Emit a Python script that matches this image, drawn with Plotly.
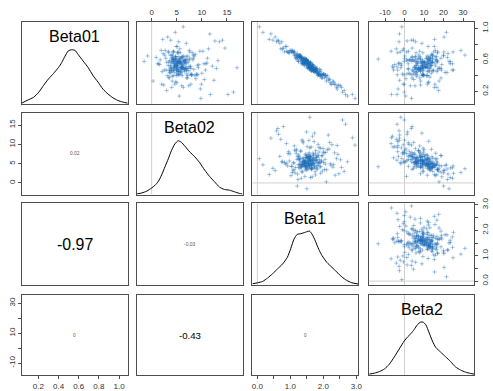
import plotly.graph_objects as go

# ---------------------------------------------------------------- data
names = ["Beta01", "Beta02", "Beta1", "Beta2"]

beta1 = [
    1.62, 0.95, 2.10, 1.48, 1.83, 0.71, 1.35, 2.44, 1.57, 1.12,
    1.90, 1.27, 0.58, 1.74, 2.02, 1.41, 1.66, 0.88, 2.31, 1.53,
    1.19, 1.97, 1.44, 2.67, 1.05, 1.71, 0.36, 1.59, 1.86, 1.30,
    2.15, 1.50, 0.82, 1.77, 1.23, 2.52, 1.64, 1.38, 0.99, 1.92,
    1.46, 2.26, 1.08, 1.69, 0.62, 1.55, 2.07, 1.33, 1.81, 2.88,
    1.16, 1.60, 0.47, 1.99, 1.42, 1.73, 2.36, 1.26, 0.92, 1.51,
    1.88, 1.36, 2.19, 0.76, 1.68, 1.47, 2.58, 1.14, 1.79, 1.31,
    0.17, 1.56, 2.04, 1.40, 1.95, 1.21, 1.63, 0.85, 2.40, 1.49,
    1.75, 1.09, 2.12, 1.58, 0.68, 1.84, 1.29, 2.73, 1.45, 1.02,
    1.67, 2.23, 1.37, 0.54, 1.91, 1.54, 1.18, 2.47, 1.72, 1.34,
    0.97, 2.00, 1.61, 1.25, 2.29, 0.79, 1.52, 1.85, 1.43, 2.96,
    1.11, 1.78, 0.41, 1.65, 2.09, 1.32, 1.94, 1.06, 1.70, 2.55,
    1.39, 0.89, 1.82, 1.57, 2.17, 1.24, 0.64, 1.76, 1.46, 2.34,
    1.03, 1.87, 1.28, 2.63, 1.59, 0.74, 1.97, 1.44, 1.13, 2.06,
    0.06, 1.66, 1.35, 2.21, 1.50, 0.93, 1.80, 2.42, 1.22, 1.62,
    1.52, 1.38, 1.71, 1.60, 1.45, 1.83, 1.29, 1.66, 1.57, 1.49,
    1.74, 1.41, 1.63, 1.20, 1.55, 1.92, 1.47, 1.36, 1.69, 1.58,
    1.33, 1.78, 1.50, 1.64, 1.11, 1.59, 1.87, 1.43, 1.54, 1.68,
    1.61, 1.26, 1.48, 1.80, 1.56, 1.39, 1.73, 1.62, 2.01, 1.44,
    1.53, 1.67, 1.35, 1.58, 1.76, 1.46, 1.30, 1.65, 1.51, 1.89,
    1.42, 1.60, 1.95, 1.49, 1.70, 1.17, 1.57, 1.81, 1.37, 1.64,
    1.55, 1.72, 1.40, 1.62, 1.28, 1.50, 1.85, 1.45, 1.68, 1.59,
    1.34, 1.77, 1.56, 1.47, 1.63, 2.05, 1.43, 1.58, 1.22, 1.69,
    1.61, 1.38, 1.52, 1.79, 1.48, 1.66, 1.31, 1.57, 1.74, 1.44,
    1.90, 1.54, 1.36, 1.63, 1.50, 1.25, 1.71, 1.46, 1.60, 1.53,
]

beta01 = [
    0.53, 0.69, 0.38, 0.60, 0.44, 0.74, 0.62, 0.27, 0.51, 0.71,
    0.39, 0.64, 0.83, 0.47, 0.42, 0.56, 0.54, 0.71, 0.32, 0.49,
    0.67, 0.40, 0.62, 0.16, 0.71, 0.49, 0.86, 0.53, 0.42, 0.65,
    0.34, 0.59, 0.70, 0.48, 0.63, 0.27, 0.50, 0.55, 0.72, 0.47,
    0.57, 0.29, 0.70, 0.47, 0.85, 0.53, 0.41, 0.55, 0.46, 0.16,
    0.62, 0.57, 0.85, 0.42, 0.53, 0.49, 0.29, 0.65, 0.70, 0.54,
    0.48, 0.57, 0.35, 0.74, 0.52, 0.61, 0.19, 0.66, 0.49, 0.60,
    0.95, 0.56, 0.37, 0.62, 0.37, 0.65, 0.50, 0.77, 0.25, 0.59,
    0.47, 0.69, 0.40, 0.50, 0.81, 0.43, 0.66, 0.14, 0.57, 0.72,
    0.52, 0.29, 0.59, 0.89, 0.41, 0.55, 0.62, 0.28, 0.47, 0.64,
    0.69, 0.41, 0.55, 0.58, 0.33, 0.75, 0.58, 0.42, 0.58, 0.11,
    0.70, 0.45, 0.93, 0.50, 0.33, 0.62, 0.42, 0.72, 0.46, 0.25,
    0.55, 0.77, 0.44, 0.55, 0.36, 0.58, 0.84, 0.45, 0.60, 0.29,
    0.70, 0.41, 0.64, 0.21, 0.50, 0.83, 0.37, 0.60, 0.65, 0.40,
    1.02, 0.49, 0.62, 0.31, 0.58, 0.70, 0.47, 0.23, 0.68, 0.49,
    0.56, 0.56, 0.50, 0.56, 0.56, 0.40, 0.64, 0.50, 0.51, 0.60,
    0.44, 0.60, 0.51, 0.63, 0.57, 0.40, 0.60, 0.56, 0.50, 0.48,
    0.63, 0.46, 0.60, 0.47, 0.69, 0.52, 0.41, 0.58, 0.52, 0.54,
    0.50, 0.66, 0.51, 0.47, 0.53, 0.61, 0.47, 0.47, 0.42, 0.62,
    0.55, 0.47, 0.62, 0.51, 0.51, 0.55, 0.64, 0.46, 0.55, 0.45,
    0.54, 0.57, 0.41, 0.57, 0.45, 0.66, 0.53, 0.49, 0.57, 0.50,
    0.58, 0.46, 0.59, 0.48, 0.64, 0.60, 0.41, 0.57, 0.53, 0.51,
    0.60, 0.50, 0.51, 0.60, 0.46, 0.40, 0.56, 0.55, 0.60, 0.53,
    0.51, 0.61, 0.58, 0.43, 0.57, 0.48, 0.66, 0.49, 0.48, 0.60,
    0.45, 0.50, 0.59, 0.56, 0.53, 0.64, 0.46, 0.58, 0.51, 0.58,
]

beta02 = [
    5.2, 8.1, 3.4, 6.7, 4.5, 11.3, 2.8, 7.4, 5.9, 9.6,
    4.1, 6.2, 13.5, 3.9, 7.8, 5.5, 1.6, 10.2, 4.8, 6.9,
    8.7, 3.1, 5.7, 15.2, 4.3, 7.1, 2.2, 9.1, 5.0, 6.4,
    12.4, 3.6, 5.3, 8.4, 0.9, 6.0, 4.6, 10.8, 7.5, 2.5,
    5.8, 9.9, 3.3, 6.5, 14.1, 4.9, 7.9, 1.2, 5.4, 11.7,
    4.0, 6.8, 3.8, 8.9, 5.1, 12.9, 2.0, 7.2, 4.4, 9.4,
    6.1, 3.0, 10.5, 5.6, 7.7, 4.2, 16.3, 2.6, 6.6, 8.2,
    4.7, 11.0, 3.5, 5.9, 7.0, -0.8, 9.3, 4.9, 6.3, 13.2,
    2.9, 5.2, 8.6, 4.3, 6.9, 10.0, 3.7, 5.5, 7.3, 1.9,
    12.1, 4.6, 6.4, 3.2, 9.0, 5.0, 7.6, 2.4, 10.7, 4.8,
    5.7, 8.0, 1.4, 6.2, 4.1, 14.6, 3.9, 7.0, 5.3, 9.8,
    3.4, 6.6, 11.6, 4.5, 0.3, 8.3, 5.8, 2.7, 7.4, 4.0,
    10.4, 5.1, 3.6, 6.9, 8.8, 4.7, 12.6, 2.1, 5.6, 7.8,
    4.3, 9.2, 6.0, 3.0, 17.0, 5.4, 7.1, 1.7, 8.5, 4.9,
    6.3, 3.8, 11.1, 5.0, -1.5, 7.6, 4.4, 9.7, 2.3, 6.7,
    5.1, 4.4, 6.3, 5.6, 3.9, 7.2, 4.8, 5.3, 6.8, 4.2,
    5.9, 4.6, 3.7, 6.1, 5.0, 4.3, 7.5, 5.5, 4.9, 6.4,
    4.1, 5.7, 6.6, 3.5, 5.2, 4.7, 8.0, 5.4, 4.5, 6.0,
    5.8, 4.0, 5.1, 6.9, 3.8, 5.6, 4.4, 7.0, 5.3, 4.8,
    6.2, 5.0, 4.3, 5.9, 7.7, 4.6, 5.4, 3.6, 6.5, 5.2,
    4.9, 6.7, 5.5, 4.2, 5.8, 8.3, 4.5, 6.0, 5.1, 3.9,
    5.6, 4.1, 6.4, 5.0, 4.7, 7.1, 5.3, 3.4, 6.2, 4.8,
    4.4, 5.9, 7.4, 5.2, 4.0, 6.1, 5.7, 4.6, 6.8, 5.0,
    6.0, 4.9, 5.3, 3.7, 6.6, 5.5, 4.2, 7.8, 5.1, 4.5,
    5.4, 6.3, 4.8, 5.8, 3.3, 6.9, 5.0, 4.3, 6.1, 5.6,
]

beta2 = [
    13.9, -3.5, 13.0, 4.2, 20.8, -4.2, 18.7, 5.4, -3.9, 7.8,
    6.2, 15.8, -2.8, 24.5, -1.1, 9.6, 19.1, -6.9, 12.4, 1.9,
    13.8, 9.4, 12.4, -3.8, 2.0, 18.7, 15.4, -1.6, 9.2, 14.5,
    -2.5, 16.8, -2.2, 7.2, 22.0, 3.0, 10.6, 12.4, -0.8, 25.1,
    10.2, -0.6, 20.2, -5.6, 3.5, 9.3, 3.8, 24.6, 14.7, -6.7,
    14.3, 14.1, 4.6, 5.6, 6.1, 8.9, 11.7, 11.6, 24.9, -5.0,
    1.9, 14.5, 4.7, -0.5, 16.0, -13.5, -0.1, 20.0, 6.3, 2.4,
    21.5, -2.8, 3.9, 11.1, 7.8, 20.0, -5.9, 15.3, 16.6, 1.6,
    9.6, 16.9, 10.0, 5.0, 8.9, 2.3, 31.0, 0.6, 10.5, 15.8,
    -6.1, 15.6, 4.5, 20.3, 9.5, -1.8, 8.1, 8.2, -3.5, 16.4,
    9.4, -0.3, 23.4, 11.8, 8.2, 3.9, 23.5, 2.8, -0.2, 3.6,
    17.0, 6.3, -2.6, 17.8, 17.7, 7.3, 1.2, 28.9, 4.4, 15.3,
    1.9, 12.1, 21.8, -3.1, 0.7, 16.5, 1.3, 16.6, 16.5, -0.1,
    15.0, -3.7, 8.0, 17.5, -1.9, 5.7, 18.7, 1.0, 0.1, 11.3,
    -1.4, 17.6, 0.0, 12.2, 22.8, 1.1, 18.9, -3.3, 22.3, 8.2,
    11.1, 6.9, 11.6, 8.5, 9.5, 11.6, 5.4, 9.8, 10.1, 8.1,
    6.1, 12.6, 11.7, 3.9, 14.2, 12.0, 3.2, 12.6, 9.3, 6.5,
    13.2, 9.4, 5.3, 16.9, 5.9, 11.5, 9.7, 3.7, 10.8, 11.0,
    7.2, 14.3, 11.1, 3.9, 13.6, 6.5, 14.9, 7.8, 4.8, 11.4,
    11.8, 7.2, 13.0, 9.1, 5.0, 15.6, 5.7, 12.8, 12.4, 4.9,
    10.3, 10.2, 6.6, 14.1, 8.2, 7.3, 8.8, 13.0, 6.1, 12.5,
    5.5, 12.2, 12.5, 8.2, 12.5, 2.7, 9.8, 17.0, 5.8, 13.4,
    11.9, 7.1, 9.4, 12.9, 8.3, 8.9, 13.4, 6.6, 9.1, 9.2,
    8.0, 14.3, 6.8, 13.7, 8.3, 5.6, 14.1, 7.9, 8.1, 15.8,
    11.7, 5.6, 13.4, 9.2, 13.2, 3.9, 14.2, 9.0, 10.9, 9.5,
]

# kernel density curves, heights relative to each curve's peak
dens_beta01_x = [0.036, 0.088, 0.154, 0.203, 0.252, 0.301, 0.350, 0.399, 0.431, 0.464, 0.497, 0.529,
                 0.562, 0.595, 0.644, 0.693, 0.742, 0.791, 0.840, 0.889, 0.938, 0.987, 1.036, 1.085]
dens_beta01_y = [0.01, 0.06, 0.12, 0.21, 0.34, 0.46, 0.56, 0.67, 0.76, 0.88, 0.98, 1.0,
                 0.99, 0.91, 0.79, 0.67, 0.52, 0.40, 0.27, 0.18, 0.11, 0.06, 0.03, 0.01]

dens_beta02_x = [-3.0, -1.95, -0.96, 0.02, 0.68, 1.34, 1.99, 2.65, 3.31, 3.96, 4.62, 5.28, 5.94,
                 6.6, 7.59, 8.58, 9.56, 10.55, 11.54, 12.52, 13.51, 14.5, 15.48, 16.47, 17.45, 18.1]
dens_beta02_y = [0.0, 0.02, 0.055, 0.116, 0.165, 0.24, 0.36, 0.51, 0.66, 0.82, 0.94, 1.0, 0.97,
                 0.90, 0.79, 0.70, 0.59, 0.45, 0.33, 0.23, 0.13, 0.085, 0.073, 0.043, 0.012, 0.0]

dens_beta1_x = [-0.15, 0.01, 0.16, 0.31, 0.46, 0.61, 0.76, 0.91, 1.01, 1.11, 1.21, 1.31, 1.41,
                1.51, 1.58, 1.66, 1.76, 1.86, 1.96, 2.11, 2.26, 2.41, 2.56, 2.71, 2.86, 3.06]
dens_beta1_y = [0.012, 0.03, 0.056, 0.12, 0.20, 0.29, 0.38, 0.51, 0.67, 0.85, 0.94, 0.95, 0.97,
                0.99, 1.0, 0.94, 0.81, 0.66, 0.54, 0.41, 0.32, 0.23, 0.14, 0.074, 0.031, 0.006]

dens_beta2_x = [-18.1, -15.4, -12.9, -10.3, -7.8, -5.2, -2.7, -0.15, 1.6, 3.25, 4.95, 6.6, 8.3,
                9.5, 10.9, 12.6, 14.3, 16.0, 18.5, 21.1, 23.6, 26.1, 28.7, 31.2, 33.8, 35.9]
dens_beta2_y = [0.012, 0.03, 0.06, 0.11, 0.20, 0.34, 0.49, 0.64, 0.72, 0.78, 0.86, 0.95, 1.0,
                1.0, 0.95, 0.80, 0.64, 0.52, 0.43, 0.34, 0.25, 0.15, 0.09, 0.05, 0.025, 0.012]

# pairwise correlations shown in the lower panels
corr_pairs = [("Beta02", "Beta01"), ("Beta1", "Beta01"), ("Beta2", "Beta01"),
              ("Beta1", "Beta02"), ("Beta2", "Beta02"), ("Beta2", "Beta1")]
corr_values = [0.02, -0.97, 0, -0.03, -0.43, 0]

# axis ticks per variable
ticks_beta01 = [0.2, 0.4, 0.6, 0.8, 1.0]
ticks_beta02 = [0, 5, 10, 15]
ticks_beta1 = [0.0, 0.5, 1.0, 1.5, 2.0, 2.5, 3.0]
ticks_beta2 = [-10, 0, 10, 20, 30]
labels_beta01_x = ["0.2", "0.4", "0.6", "0.8", "1.0"]
labels_beta01_y = ["0.2", "", "0.6", "", "1.0"]
labels_beta02 = ["0", "5", "10", "15"]
labels_beta1 = ["0.0", "", "1.0", "", "2.0", "", "3.0"]
labels_beta2_x = ["-10", "0", "10", "20", "30"]
labels_beta2_y = ["-10", "", "10", "", "30"]

# ---------------------------------------------------------------- setup
samples = {"Beta01": beta01, "Beta02": beta02, "Beta1": beta1, "Beta2": beta2}
densities = {"Beta01": (dens_beta01_x, dens_beta01_y), "Beta02": (dens_beta02_x, dens_beta02_y),
             "Beta1": (dens_beta1_x, dens_beta1_y), "Beta2": (dens_beta2_x, dens_beta2_y)}
ranges = {"Beta01": [0.036, 1.085], "Beta02": [-3.0, 18.1],
          "Beta1": [-0.15, 3.06], "Beta2": [-18.1, 35.7]}
x_ticks = {"Beta01": (ticks_beta01, labels_beta01_x), "Beta02": (ticks_beta02, labels_beta02),
           "Beta1": (ticks_beta1, labels_beta1), "Beta2": (ticks_beta2, labels_beta2_x)}
y_ticks = {"Beta01": (ticks_beta01, labels_beta01_y), "Beta02": (ticks_beta02, labels_beta02),
           "Beta1": (ticks_beta1, labels_beta1), "Beta2": (ticks_beta2, labels_beta2_y)}
has_zero = {"Beta01": False, "Beta02": True, "Beta1": True, "Beta2": True}
density_range = [-0.01, 1.52]

W, H = 493, 391
col_px = [(21, 128), (137, 244), (254, 361), (372, 478)]
row_px = [(16, 100), (109, 192), (201, 284), (294, 376)]

FONT = "Liberation Sans, Arial, sans-serif"
FRAME = "#4d4d4d"
POINT = "rgba(30, 110, 185, 0.40)"
REF = "#d0d0d0"

fig = go.Figure()
layout = {}
shapes = []
annotations = []

n = len(names)
for i in range(n):
    for j in range(n):
        k = i * n + j + 1
        suffix = "" if k == 1 else str(k)
        xa, ya = f"x{suffix}", f"y{suffix}"
        xkey, ykey = f"xaxis{suffix}", f"yaxis{suffix}"
        vx, vy = names[j], names[i]
        x0, x1 = col_px[j]
        y0, y1 = row_px[i]

        xaxis = dict(domain=[x0 / W, x1 / W], anchor=ya, range=ranges[vx],
                     showgrid=False, zeroline=False, showline=True, mirror=True,
                     linecolor=FRAME, linewidth=1, showticklabels=False, ticks="",
                     fixedrange=True)
        yrange = density_range if i == j else ranges[vy]
        yaxis = dict(domain=[1 - y1 / H, 1 - y0 / H], anchor=xa, range=yrange,
                     showgrid=False, zeroline=False, showline=True, mirror=True,
                     linecolor=FRAME, linewidth=1, showticklabels=False, ticks="",
                     fixedrange=True)

        tick_style = dict(ticks="outside", ticklen=3, tickcolor=FRAME, tickwidth=1,
                          showticklabels=True,
                          tickfont=dict(family=FONT, size=8, color="#333333"))
        # outer axes alternate between opposite sides
        if i == 0 and j % 2 == 1:
            tv, tt = x_ticks[vx]
            xaxis.update(tick_style, side="top", tickmode="array", tickvals=tv, ticktext=tt)
        if i == n - 1 and j % 2 == 0:
            tv, tt = x_ticks[vx]
            xaxis.update(tick_style, side="bottom", tickmode="array", tickvals=tv, ticktext=tt)
        if j == 0 and i % 2 == 1:
            tv, tt = y_ticks[vy]
            yaxis.update(tick_style, side="left", tickmode="array", tickvals=tv, ticktext=tt,
                         tickangle=-90)
        if j == n - 1 and i % 2 == 0:
            tv, tt = y_ticks[vy]
            yaxis.update(tick_style, side="right", tickmode="array", tickvals=tv, ticktext=tt,
                         tickangle=-90)

        layout[xkey] = xaxis
        layout[ykey] = yaxis

        if i == j:
            dx, dy = densities[vx]
            if has_zero[vx]:
                shapes.append(dict(type="line", xref=xa, yref=f"{ya} domain", x0=0, x1=0,
                                   y0=0, y1=1, line=dict(color=REF, width=1), layer="below"))
            fig.add_trace(go.Scatter(x=dx, y=dy, mode="lines", xaxis=xa, yaxis=ya,
                                     line=dict(color="black", width=1, shape="spline",
                                               smoothing=0.6),
                                     hoverinfo="skip", showlegend=False))
            annotations.append(dict(text=vx, xref=f"{xa} domain", yref=f"{ya} domain",
                                    x=0.5, y=0.82, xanchor="center", yanchor="middle",
                                    showarrow=False,
                                    font=dict(family=FONT, size=16, color="black")))
        elif j > i:
            if has_zero[vx]:
                shapes.append(dict(type="line", xref=xa, yref=f"{ya} domain", x0=0, x1=0,
                                   y0=0, y1=1, line=dict(color=REF, width=1), layer="below"))
            if has_zero[vy]:
                shapes.append(dict(type="line", xref=f"{xa} domain", yref=ya, x0=0, x1=1,
                                   y0=0, y1=0, line=dict(color=REF, width=1), layer="below"))
            fig.add_trace(go.Scatter(x=samples[vx], y=samples[vy], mode="markers",
                                     xaxis=xa, yaxis=ya,
                                     marker=dict(symbol="cross-thin", size=3,
                                                 line=dict(color=POINT, width=1)),
                                     hoverinfo="skip", showlegend=False))
        else:
            # empty trace so the panel frame and its axes are drawn
            fig.add_trace(go.Scatter(x=[None], y=[None], mode="markers", xaxis=xa, yaxis=ya,
                                     hoverinfo="skip", showlegend=False))
            r = corr_values[corr_pairs.index((vy, vx))]
            small = abs(r) < 0.1
            annotations.append(dict(text=f"{r:g}", xref=f"{xa} domain", yref=f"{ya} domain",
                                    x=0.5, y=0.5, xanchor="center", yanchor="middle",
                                    showarrow=False,
                                    font=dict(family=FONT, size=4.6 + 11.7 * abs(r),
                                              color="#7a4a48" if small else "black")))

fig.update_layout(**layout)
fig.update_layout(width=W, height=H, margin=dict(l=0, r=0, t=0, b=0),
                  paper_bgcolor="white", plot_bgcolor="white",
                  shapes=shapes, annotations=annotations, showlegend=False)

fig.write_html("out.html", config={"displayModeBar": False})
